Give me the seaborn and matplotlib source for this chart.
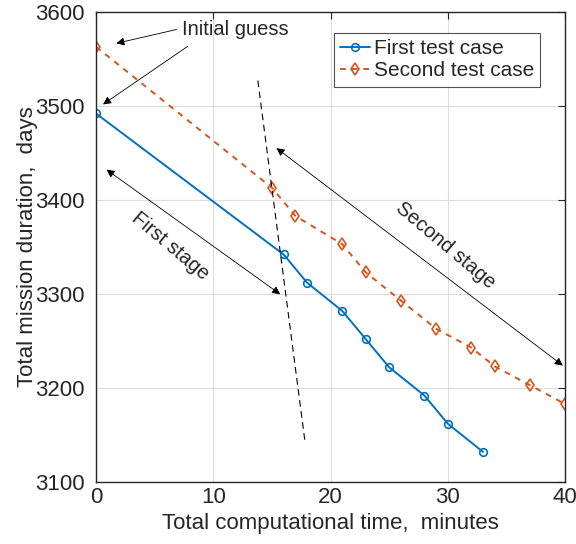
import matplotlib
matplotlib.use("Agg")
import matplotlib.pyplot as plt
import seaborn as sns
import pandas as pd

# data
t_first = [0, 16, 18, 21, 23, 25, 28, 30, 33]
d_first = [3492, 3342, 3312, 3282, 3252, 3222, 3192, 3162, 3132]
t_second = [0, 15, 17, 21, 23, 26, 29, 32, 34, 37, 40]
d_second = [3563, 3413, 3383, 3353, 3323, 3293, 3263, 3243, 3223, 3203, 3183]
stage_line_x = [13.8, 17.8]
stage_line_y = [3527, 3145]

sns.set_style("white")
plt.rcParams["font.family"] = ["Liberation Sans", "DejaVu Sans"]

first = pd.DataFrame({"t": t_first, "d": d_first})
second = pd.DataFrame({"t": t_second, "d": d_second})

fig = plt.figure(figsize=(5.76, 5.44), dpi=100)
ax = fig.add_axes([0.1667, 0.114, 0.8143, 0.864])

sns.lineplot(data=first, x="t", y="d", ax=ax, color="#0072BD", lw=1.4,
             marker="o", markersize=5.5, markerfacecolor="none",
             markeredgecolor="#0072BD", markeredgewidth=1.2, label="First test case")
sns.lineplot(data=second, x="t", y="d", ax=ax, color="#D95319", lw=1.4,
             linestyle=(0, (3, 3)), marker="d", markersize=6.5,
             markerfacecolor="none", markeredgecolor="#D95319",
             markeredgewidth=1.2, label="Second test case")

ax.plot(stage_line_x, stage_line_y, color="black", lw=0.8, linestyle=(0, (6, 4)))

ax.set_xlim(0, 40)
ax.set_ylim(3100, 3600)
ax.set_xticks([0, 10, 20, 30, 40])
ax.set_yticks([3100, 3200, 3300, 3400, 3500, 3600])
ax.grid(True, color="#dcdcdc", lw=0.8)
ax.set_axisbelow(True)
ax.tick_params(direction="in", top=True, right=True, length=5, labelsize=16,
               color="#262626", labelcolor="#262626")
ax.tick_params(axis="y", pad=8)
for s in ax.spines.values():
    s.set_color("#262626")
    s.set_linewidth(1.0)

ax.set_xlabel("Total computational time,  minutes", fontsize=16, color="#262626")
ax.set_ylabel("Total mission duration,  days", fontsize=16, color="#262626",
              labelpad=-2)

arr = dict(arrowstyle="-|>", color="black", lw=0.6, mutation_scale=12)
ax.text(11.9, 3581, "Initial guess", fontsize=14.5, ha="center", va="center")
ax.annotate("", xy=(1.5, 3566), xytext=(7.1, 3582), arrowprops=arr)
ax.annotate("", xy=(0.4, 3500), xytext=(8.0, 3565), arrowprops=arr)

darr = dict(arrowstyle="<|-|>", color="black", lw=0.6, mutation_scale=12)
ax.annotate("", xy=(0.7, 3434), xytext=(15.9, 3298), arrowprops=darr)
ax.text(6.3, 3351, "First stage", fontsize=14.5, rotation=-40,
        ha="center", va="center", rotation_mode="anchor")
ax.annotate("", xy=(15.2, 3457), xytext=(40, 3222), arrowprops=darr)
ax.text(29.8, 3352, "Second stage", fontsize=14.5, rotation=-40,
        ha="center", va="center", rotation_mode="anchor")

leg = ax.legend(loc="upper right", bbox_to_anchor=(0.947, 0.955), fontsize=15,
                frameon=True, fancybox=False, edgecolor="#262626",
                handlelength=1.4, handletextpad=0.2, borderpad=0.3,
                labelspacing=0.15, borderaxespad=0)
leg.get_frame().set_linewidth(0.8)

fig.savefig("out.png", dpi=100)
